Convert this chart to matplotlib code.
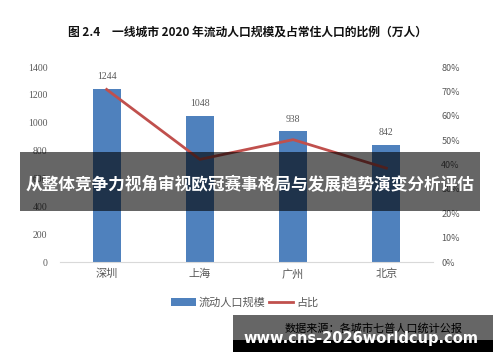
import matplotlib
matplotlib.use("Agg")
import matplotlib.pyplot as plt
from matplotlib.patches import Rectangle
import numpy as np

plt.rcParams['font.family'] = ['Noto Sans CJK SC', 'DejaVu Sans']

# data
cities = ['深圳', '上海', '广州', '北京']
floating = [1244, 1048, 938, 842]          # 万人
share = [0.708, 0.421, 0.502, 0.385]       # 占常住人口比例
left_ticks = [0, 200, 400, 600, 800, 1000, 1200, 1400]
right_ticks = [0, 0.1, 0.2, 0.3, 0.4, 0.5, 0.6, 0.7, 0.8]

blue = '#4f81bd'
red = '#c0504d'
gray = '#595959'

fig = plt.figure(figsize=(5, 3.62), dpi=100)
ax = fig.add_axes([0.12, 0.2762, 0.746, 0.5387])
x = np.arange(len(cities))

bars = ax.bar(x, floating, width=0.3, color=blue, label='流动人口规模')
for xi, v in zip(x, floating):
    ax.text(xi, v + 55, str(v), ha='center', va='bottom', fontsize=7,
            color=gray, family='Liberation Serif')

ax.set_xlim(-0.5, 3.5)
ax.set_ylim(0, 1400)
ax.set_yticks(left_ticks)
ax.set_yticklabels([str(t) for t in left_ticks], family='Liberation Serif')
ax.set_xticks(x)
ax.set_xticklabels(cities)
ax.tick_params(axis='y', length=0, labelsize=7, labelcolor=gray, pad=9)
ax.tick_params(axis='x', length=0, labelsize=8, labelcolor=gray, pad=5)
for s in ['top', 'left', 'right']:
    ax.spines[s].set_visible(False)
ax.spines['bottom'].set_color('#d9d9d9')

ax2 = ax.twinx()
line, = ax2.plot(x, share, color=red, lw=2, label='占比')
ax2.set_ylim(0, 0.8)
ax2.set_yticks(right_ticks)
ax2.set_yticklabels([f'{int(round(t*100))}%' for t in right_ticks])
ax2.tick_params(axis='y', length=0, labelsize=6.5, labelcolor=gray, pad=6)
for s in ['top', 'left', 'right', 'bottom']:
    ax2.spines[s].set_visible(False)

fig.legend(handles=[bars, line], loc='center', bbox_to_anchor=(0.49, 0.165),
           ncol=2, frameon=False, fontsize=8, handlelength=2.2,
           handletextpad=0.3, columnspacing=0.3, labelcolor=gray)

fig.text(0.496, 0.912, '图 2.4　一线城市 2020 年流动人口规模及占常住人口的比例（万人）',
         ha='center', va='center', fontsize=8.5, weight='bold', color='#111111')

# overlay banner
fig.add_artist(Rectangle((0.04, 0.4171), 0.92, 0.163, transform=fig.transFigure,
                         facecolor='black', alpha=0.6, edgecolor='none', zorder=10))
fig.text(0.5, 0.489, '从整体竞争力视角审视欧冠赛事格局与发展趋势演变分析评估',
         ha='center', va='center', fontsize=12, weight='bold', color='white', zorder=11)

# bottom watermark
fig.add_artist(Rectangle((0.466, 0.0608), 0.52, 0.069, transform=fig.transFigure,
                         facecolor='black', alpha=0.6, edgecolor='none', zorder=10))
fig.add_artist(Rectangle((0.466, 0.0276), 0.52, 0.0332, transform=fig.transFigure,
                         facecolor='black', edgecolor='none', zorder=10))
fig.text(0.748, 0.094, '数据来源：各城市七普人口统计公报', ha='center', va='center',
         fontsize=8, color='black', zorder=11)
fig.text(0.721, 0.066, 'www.cns-2026worldcup.com', ha='center', va='center',
         fontsize=10.5, weight='bold', color='white', family='DejaVu Sans', zorder=12)

fig.savefig('out.png', dpi=100)
